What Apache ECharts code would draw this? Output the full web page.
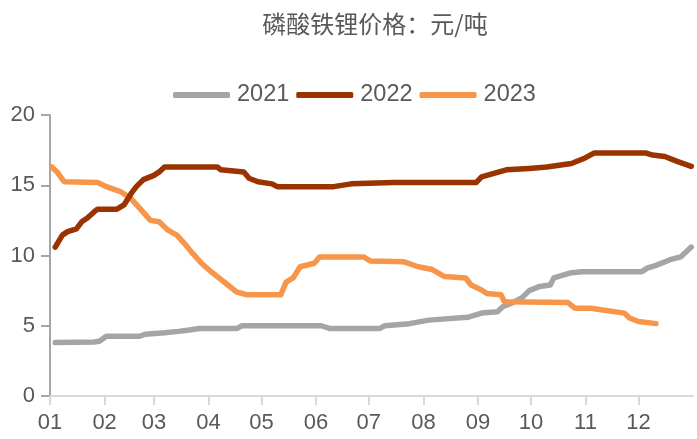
<!DOCTYPE html>
<html>
<head>
<meta charset="utf-8">
<script src="https://cdn.jsdelivr.net/npm/echarts@6/dist/echarts.min.js"></script>
<style>
  html, body { margin: 0; padding: 0; background: #fff; }
  #chart { width: 697px; height: 439px; }
</style>
</head>
<body>
<div id="chart"></div>
<script>
  // 月-日，三个年份共用同一条月份轴
  const days2021 = ['01-04', '01-26', '01-29', '02-02', '02-21', '02-24', '03-07', '03-15', '03-21', '03-27',
    '04-17', '04-20', '06-04', '06-09', '07-07', '07-10', '07-24', '08-04', '08-26', '09-03',
    '09-12', '09-15', '09-20', '09-26', '09-30', '10-06', '10-12', '10-14', '10-23', '10-30',
    '12-03', '12-06', '12-11', '12-19', '12-25', '12-31']
  const price2021 = [3.8, 3.85, 3.9, 4.25, 4.25, 4.4, 4.5, 4.6, 4.7, 4.8,
    4.8, 5.0, 5.0, 4.8, 4.8, 5.0, 5.15, 5.4, 5.6, 5.9,
    6.0, 6.35, 6.6, 7.0, 7.5, 7.8, 7.9, 8.4, 8.75, 8.85,
    8.85, 9.1, 9.3, 9.7, 9.9, 10.6]

  const days2022 = ['01-04', '01-08', '01-11', '01-16', '01-19', '01-22', '01-26', '01-28', '02-08', '02-12',
    '02-16', '02-19', '02-23', '03-01', '03-04', '03-07', '04-06', '04-08', '04-21', '04-24',
    '04-29', '05-07', '05-10', '06-11', '06-21', '07-15', '08-31', '09-03', '09-10', '09-17',
    '09-30', '10-10', '10-24', '10-31', '11-06', '12-05', '12-09', '12-16', '12-23', '12-31']
  const price2022 = [10.6, 11.45, 11.7, 11.9, 12.4, 12.65, 13.1, 13.3, 13.3, 13.6,
    14.4, 14.9, 15.4, 15.7, 15.95, 16.3, 16.3, 16.1, 15.95, 15.5,
    15.25, 15.1, 14.9, 14.9, 15.1, 15.2, 15.2, 15.6, 15.85, 16.1,
    16.2, 16.3, 16.55, 16.9, 17.3, 17.3, 17.15, 17.05, 16.7, 16.35]

  const days2023 = ['01-02', '01-05', '01-09', '01-28', '02-02', '02-10', '02-16', '02-21', '02-27', '03-04',
    '03-09', '03-14', '03-18', '03-23', '03-28', '04-01', '04-06', '04-12', '04-17', '04-23',
    '05-12', '05-15', '05-19', '05-23', '05-31', '06-03', '06-28', '07-02', '07-21', '07-29',
    '08-06', '08-13', '08-25', '08-28', '09-03', '09-06', '09-14', '09-16', '10-22', '10-26',
    '11-04', '11-23', '11-26', '12-01', '12-11']
  const price2023 = [16.3, 15.95, 15.25, 15.2, 14.9, 14.55, 14.05, 13.35, 12.5, 12.4,
    11.8, 11.45, 10.9, 10.15, 9.45, 9.0, 8.5, 7.9, 7.4, 7.2,
    7.2, 8.1, 8.4, 9.2, 9.45, 9.9, 9.9, 9.6, 9.55, 9.2,
    9.0, 8.5, 8.4, 7.9, 7.55, 7.3, 7.2, 6.7, 6.65, 6.25,
    6.25, 5.9, 5.55, 5.3, 5.15]

  const years = ['2021', '2022', '2023']
  const colors = ['#A5A5A5', '#9A3300', '#F7964A']
  const baseYear = '2021'

  const textColor = '#595959'
  const font = 'Liberation Sans, Arial, sans-serif'

  function toSeries(days, prices) {
    return days.map((d, i) => [baseYear + '-' + d, prices[i]])
  }

  const allData = [
    toSeries(days2021, price2021),
    toSeries(days2022, price2022),
    toSeries(days2023, price2023)
  ]

  const chart = echarts.init(document.getElementById('chart'))
  chart.setOption({
    animation: false,
    color: colors,
    title: {
      text: '磷酸铁锂价格：元/吨',
      left: 370,
      textAlign: 'center',
      top: 7,
      textStyle: {
        color: textColor,
        fontSize: 24,
        fontWeight: 'normal',
        fontFamily: 'Noto Sans CJK SC'
      }
    },
    legend: {
      left: 168,
      top: 78,
      icon: 'roundRect',
      itemWidth: 57,
      itemHeight: 6,
      itemGap: 7,
      textStyle: {
        color: textColor,
        fontSize: 23.5,
        fontFamily: font,
        padding: [0, 0, 0, 2]
      },
      data: years
    },
    grid: {
      left: 50,
      right: 4,
      top: 115,
      bottom: 43,
      outerBoundsMode: 'none'
    },
    xAxis: {
      type: 'time',
      min: baseYear + '-01-01',
      max: (+baseYear + 1) + '-01-01',
      splitNumber: 12,
      axisLine: { lineStyle: { color: '#D9D9D9', width: 2 } },
      axisTick: { show: true, length: 9, lineStyle: { color: '#D9D9D9', width: 2 } },
      splitLine: { show: false },
      axisLabel: {
        color: textColor,
        fontSize: 22,
        fontFamily: font,
        margin: 16,
        hideOverlap: false,
        formatter: function (val) {
          const d = new Date(val)
          if (d.getFullYear() > +baseYear) return ''
          return String(d.getMonth() + 1).padStart(2, '0')
        }
      }
    },
    yAxis: {
      type: 'value',
      min: 0,
      max: 20,
      interval: 5,
      axisLine: { show: true, lineStyle: { color: '#A6A6A6', width: 2 } },
      axisTick: { show: true, length: 9, lineStyle: { color: '#A6A6A6', width: 2 } },
      splitLine: { show: false },
      axisLabel: {
        color: textColor,
        fontSize: 22,
        fontFamily: font,
        margin: 15
      }
    },
    series: years.map((name, i) => ({
      name,
      type: 'line',
      data: allData[i],
      showSymbol: false,
      symbol: 'none',
      lineStyle: { width: 5.5, cap: 'round', join: 'round' },
      z: i === 1 ? 3 : 2
    }))
  })
</script>
</body>
</html>
